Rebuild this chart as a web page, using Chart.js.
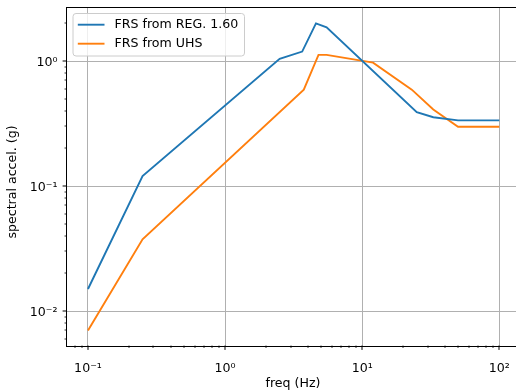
<!DOCTYPE html>
<html><head><meta charset="utf-8">
<script src="https://cdn.jsdelivr.net/npm/chart.js@4/dist/chart.umd.min.js"></script>
<style>html,body{margin:0;padding:0;overflow:hidden;background:#fff}#wrap{width:520px;height:392px;position:relative}</style>
</head><body><div id="wrap"><canvas id="c"></canvas></div>
<script>
// ---- data ----
const seriesNames = ['FRS from REG. 1.60', 'FRS from UHS'];
const freqReg  = [0.1, 0.25, 2.5, 3.65, 4.6, 5.5, 25, 33, 50, 100];
const accelReg = [0.015, 0.12, 1.04, 1.19, 2.0, 1.86, 0.39, 0.355, 0.335, 0.335];
const freqUhs  = [0.1, 0.25, 3.75, 4.8, 5.5, 12, 23, 33, 50, 100];
const accelUhs = [0.007, 0.0375, 0.59, 1.12, 1.12, 0.97, 0.59, 0.41, 0.298, 0.298];
const xMajorTicks = [0.1, 1, 10, 100];
const xTickLabels = ['10\u207B\u00B9', '10\u2070', '10\u00B9', '10\u00B2'];
const yMajorTicks = [0.01, 0.1, 1];
const yTickLabels = ['10\u207B\u00B2', '10\u207B\u00B9', '10\u2070'];
const xTitle = 'freq (Hz)';
const yTitle = 'spectral accel. (g)';
const colors = ['#1f77b4', '#ff7f0e'];

const FONT = 'DejaVu Sans';
const FS = 12.6;
function logTicks(min, max) {
  const out = [];
  for (let e = -3; e <= 3; e++) for (let m = 1; m <= 9; m++) {
    const v = +(m * Math.pow(10, e)).toPrecision(6);
    if (v >= min && v <= max) out.push(v);
  }
  return out;
}
function isMajor(list, v) { return list.some(t => Math.abs(Math.log10(t) - Math.log10(v)) < 1e-6); }
function labelFor(list, labels, v) {
  for (let i = 0; i < list.length; i++) if (Math.abs(Math.log10(list[i]) - Math.log10(v)) < 1e-6) return labels[i];
  return '';
}
const toPts = (xs, ys) => xs.map((x, i) => ({x, y: ys[i]}));

const X_MIN = 0.0703, X_MAX = 139.2, Y_MIN = 0.0053, Y_MAX = 2.655;

const decor = {
  id: 'decor',
  afterDatasetsDraw(chart) {
    const {ctx, chartArea: a, scales} = chart;
    ctx.save();
    // frame
    ctx.strokeStyle = '#000'; ctx.lineWidth = 1;
    ctx.strokeRect(Math.round(a.left) - 0.5, Math.round(a.top) - 0.5, Math.round(a.right - a.left) + 1, Math.round(a.bottom - a.top) + 1);
    // tick marks
    const xs = scales.x, ys = scales.y;
    ctx.strokeStyle = '#000';
    xs.ticks.forEach(t => {
      const p = Math.round(xs.getPixelForValue(t.value)) + 0.5;
      if (p < a.left - 0.5 || p > a.right + 0.5) return;
      const maj = isMajor(xMajorTicks, t.value);
      ctx.lineWidth = maj ? 1 : 0.8;
      ctx.beginPath(); ctx.moveTo(p - 0.5, a.bottom); ctx.lineTo(p - 0.5, a.bottom + (maj ? 4.4 : 2.5)); ctx.stroke();
    });
    ys.ticks.forEach(t => {
      const p = Math.round(ys.getPixelForValue(t.value)) - 0.5;
      if (p < a.top - 0.5 || p > a.bottom + 0.5) return;
      const maj = isMajor(yMajorTicks, t.value);
      ctx.lineWidth = maj ? 1 : 0.8;
      ctx.beginPath(); ctx.moveTo(a.left, p + 0.5); ctx.lineTo(a.left - (maj ? 4.4 : 2.5), p + 0.5); ctx.stroke();
    });
    // axis titles
    ctx.fillStyle = '#000'; ctx.font = FS + 'px "' + FONT + '"';
    ctx.textAlign = 'center'; ctx.textBaseline = 'middle';
    ctx.fillText(xTitle, (a.left + a.right) / 2, 383.5);
    ctx.save(); ctx.translate(12.5, 182); ctx.rotate(-Math.PI / 2); ctx.fillText(yTitle, 0, 0); ctx.restore();
    // legend
    const lx = a.left + 6, ly = a.top + 5.5, lw = 171.5, lh = 42.5, r = 3;
    ctx.beginPath();
    ctx.moveTo(lx + r, ly); ctx.lineTo(lx + lw - r, ly); ctx.quadraticCurveTo(lx + lw, ly, lx + lw, ly + r);
    ctx.lineTo(lx + lw, ly + lh - r); ctx.quadraticCurveTo(lx + lw, ly + lh, lx + lw - r, ly + lh);
    ctx.lineTo(lx + r, ly + lh); ctx.quadraticCurveTo(lx, ly + lh, lx, ly + lh - r);
    ctx.lineTo(lx, ly + r); ctx.quadraticCurveTo(lx, ly, lx + r, ly);
    ctx.closePath();
    ctx.fillStyle = 'rgba(255,255,255,0.8)'; ctx.fill();
    ctx.strokeStyle = '#cccccc'; ctx.lineWidth = 1; ctx.stroke();
    chart.data.datasets.forEach((ds, i) => {
      const y = ly + 11.2 + i * 19;
      ctx.strokeStyle = ds.borderColor; ctx.lineWidth = 1.9;
      ctx.beginPath(); ctx.moveTo(lx + 4.8, y); ctx.lineTo(lx + 31.5, y); ctx.stroke();
      ctx.fillStyle = '#000'; ctx.font = FS + 'px "' + FONT + '"'; ctx.textBaseline = 'middle'; ctx.textAlign = 'left';
      ctx.fillText(ds.label, lx + 41.5, y + 0.5);
    });
    ctx.restore();
  }
};

new Chart(document.getElementById('c'), {
  type: 'scatter',
  data: {
    datasets: [
      {label: seriesNames[0], data: toPts(freqReg, accelReg), borderColor: colors[0], backgroundColor: colors[0], showLine: true, pointRadius: 0, borderWidth: 1.9, tension: 0},
      {label: seriesNames[1], data: toPts(freqUhs, accelUhs), borderColor: colors[1], backgroundColor: colors[1], showLine: true, pointRadius: 0, borderWidth: 1.9, tension: 0}
    ]
  },
  plugins: [decor],
  options: {
    responsive: true, maintainAspectRatio: false, animation: false, devicePixelRatio: 1,
    layout: {padding: {left: 0, top: 8, right: 1, bottom: 0}},
    plugins: {legend: {display: false}, tooltip: {enabled: false}},
    scales: {
      x: {
        type: 'logarithmic', min: X_MIN, max: X_MAX,
        afterBuildTicks: s => { s.ticks = logTicks(X_MIN, X_MAX).map(v => ({value: v})); },
        afterFit: s => { s.height = 46.5; s.paddingLeft = 0; s.paddingRight = 0; },
        grid: {color: c => (c.tick && isMajor(xMajorTicks, c.tick.value)) ? '#b0b0b0' : 'rgba(0,0,0,0)', lineWidth: 1, drawTicks: false},
        border: {display: false},
        ticks: {autoSkip: false, maxRotation: 0, padding: 16, color: '#000', font: {family: FONT, size: FS},
          callback: v => labelFor(xMajorTicks, xTickLabels, v)},
        title: {display: false}
      },
      y: {
        type: 'logarithmic', min: Y_MIN, max: Y_MAX,
        afterBuildTicks: s => { s.ticks = logTicks(Y_MIN, Y_MAX).map(v => ({value: v})); },
        afterFit: s => { s.width = 67; s.paddingTop = 0; s.paddingBottom = 0; },
        grid: {color: c => (c.tick && isMajor(yMajorTicks, c.tick.value)) ? '#b0b0b0' : 'rgba(0,0,0,0)', lineWidth: 1, drawTicks: false},
        border: {display: false},
        ticks: {autoSkip: false, padding: 9.5, labelOffset: 2, color: '#000', font: {family: FONT, size: FS},
          callback: v => labelFor(yMajorTicks, yTickLabels, v)},
        title: {display: false}
      }
    }
  }
});
</script></body></html>
